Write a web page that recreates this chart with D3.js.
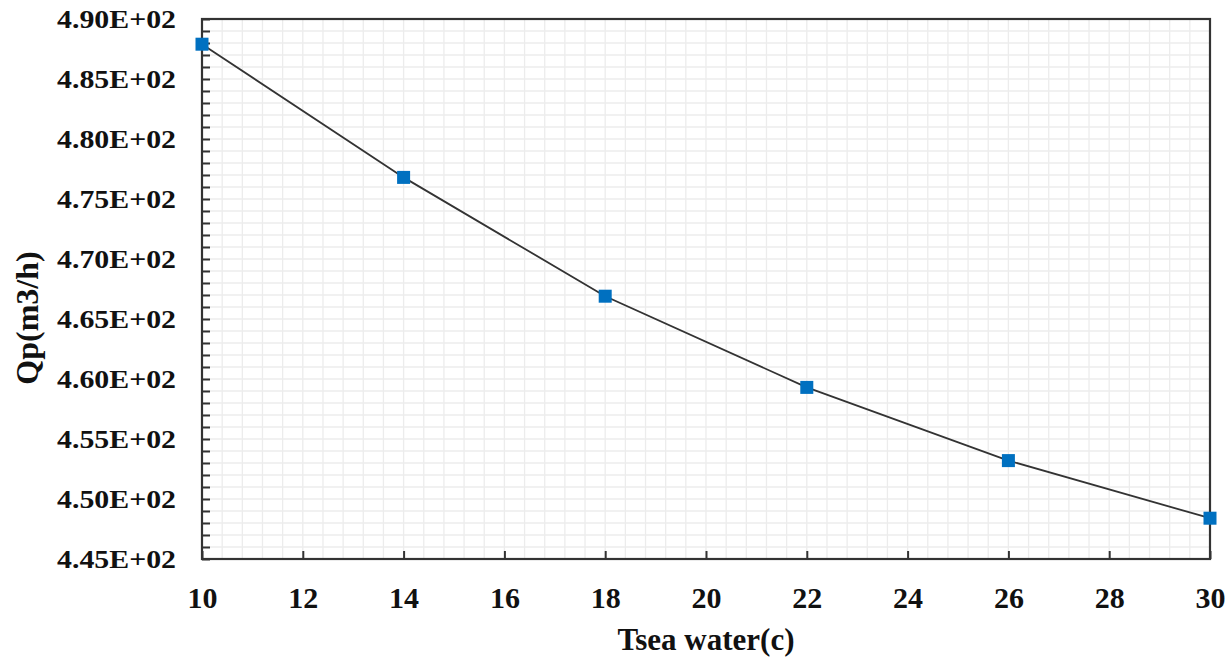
<!DOCTYPE html>
<html>
<head>
<meta charset="utf-8">
<script src="https://cdn.jsdelivr.net/npm/d3@7"></script>
<style>
  body { margin: 0; background: #fff; }
  text { font-family: "Liberation Serif", "Times New Roman", serif; font-weight: bold; fill: #111; }
</style>
</head>
<body>
<div id="chart"></div>
<script>
// data
var tempSea = [10, 14, 18, 22, 26, 30];
var qp = [487.9, 476.8, 466.9, 459.3, 453.2, 448.4];
var xTicks = [10, 12, 14, 16, 18, 20, 22, 24, 26, 28, 30];
var yTicks = [445, 450, 455, 460, 465, 470, 475, 480, 485, 490];

var svgWidth = 1231, svgHeight = 657;
var margin = {top: 19, right: 21, bottom: 98, left: 202};
var width = svgWidth - margin.left - margin.right;
var height = svgHeight - margin.top - margin.bottom;

var svg = d3.select("#chart").append("svg")
  .attr("width", svgWidth)
  .attr("height", svgHeight);

var chartGroup = svg.append("g")
  .attr("transform", `translate(${margin.left}, ${margin.top})`);

var x = d3.scaleLinear().domain([10, 30]).range([0, width]);
var y = d3.scaleLinear().domain([445, 490]).range([height, 0]);

// minor grid
var xMinor = d3.range(10, 30.001, 0.4);
var yMinor = d3.range(445, 490.001, 1);

chartGroup.append("g").selectAll("line")
  .data(xMinor).enter().append("line")
  .attr("x1", d => x(d)).attr("x2", d => x(d))
  .attr("y1", 0).attr("y2", height)
  .attr("stroke", "#ececec").attr("stroke-width", 1.3);

chartGroup.append("g").selectAll("line")
  .data(yMinor).enter().append("line")
  .attr("x1", 0).attr("x2", width)
  .attr("y1", d => y(d)).attr("y2", d => y(d))
  .attr("stroke", "#ececec").attr("stroke-width", 1.3);

// axes (ticks pointing inward)
var xAxis = d3.axisBottom(x).tickValues(xTicks).tickSizeInner(-8).tickSizeOuter(0).tickPadding(28);
var yAxis = d3.axisLeft(y).tickValues(yMinor).tickSizeInner(-8).tickSizeOuter(0).tickFormat("");

var gx = chartGroup.append("g")
  .attr("transform", `translate(0, ${height})`)
  .call(xAxis);
gx.selectAll("text").style("font-size", "30px").attr("fill", "#111")
  .style("font-family", "'Liberation Serif', serif").style("font-weight", "bold");

var gy = chartGroup.append("g").call(yAxis);

[gx, gy].forEach(function(g) {
  g.select(".domain").remove();
  g.selectAll(".tick line").attr("stroke", "#333").attr("stroke-width", 2);
});

// y tick labels
chartGroup.append("g").selectAll("text")
  .data(yTicks).enter().append("text")
  .attr("x", -26)
  .attr("y", d => y(d) + 9)
  .attr("text-anchor", "end")
  .attr("textLength", 119)
  .attr("lengthAdjust", "spacingAndGlyphs")
  .style("font-size", "26px")
  .text(d => (d / 100).toFixed(2) + "E+02");

// frame
chartGroup.append("rect")
  .attr("width", width).attr("height", height)
  .attr("fill", "none").attr("stroke", "#333").attr("stroke-width", 2.2);

// line + markers
var line = d3.line().x((d, i) => x(tempSea[i])).y(d => y(d));
chartGroup.append("path")
  .datum(qp)
  .attr("d", line)
  .attr("fill", "none")
  .attr("stroke", "#333")
  .attr("stroke-width", 1.8);

chartGroup.selectAll(".pt")
  .data(qp).enter().append("rect")
  .attr("class", "pt")
  .attr("x", (d, i) => x(tempSea[i]) - 6.5)
  .attr("y", d => y(d) - 6.5)
  .attr("width", 13).attr("height", 13)
  .attr("fill", "#0070c0");

// axis titles
svg.append("text")
  .attr("x", 706).attr("y", 650)
  .attr("text-anchor", "middle")
  .style("font-size", "31px")
  .text("Tsea water(c)");

svg.append("text")
  .attr("transform", "translate(38, 318) rotate(-90)")
  .attr("text-anchor", "middle")
  .style("font-size", "32px")
  .text("Qp(m3/h)");
</script>
</body>
</html>
